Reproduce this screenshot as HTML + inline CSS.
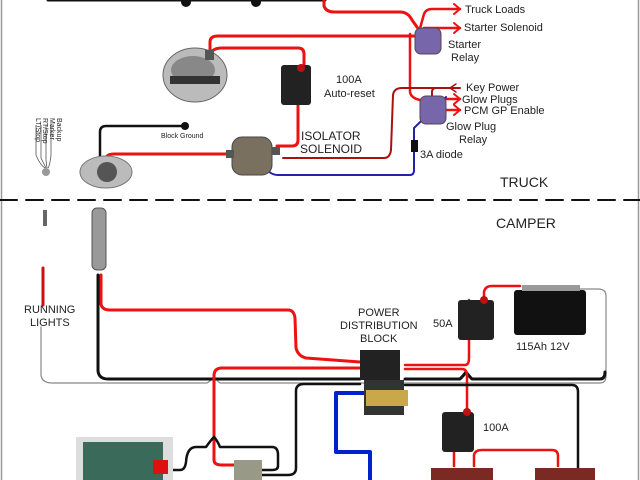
<!DOCTYPE html>
<html><head><meta charset="utf-8"><style>
html,body{margin:0;padding:0;background:#fff;}
svg{display:block;}
text{font-family:"Liberation Sans",sans-serif;fill:#222;}
</style></head><body>
<svg width="640" height="480" viewBox="0 0 640 480" xmlns="http://www.w3.org/2000/svg">
<rect width="640" height="480" fill="#fff"/>
<line x1="1.5" y1="0" x2="1.5" y2="480" stroke="#999" stroke-width="1.5"/>
<line x1="638.5" y1="0" x2="638.5" y2="480" stroke="#999" stroke-width="1.5"/>
<g fill="none" stroke-linecap="round" stroke-linejoin="round">
<!-- top black -->
<path d="M48 0 H325" stroke="#111" stroke-width="3"/>
<circle cx="186" cy="2" r="5" fill="#111"/><circle cx="256" cy="2" r="5" fill="#111"/>
<!-- top red to starter relay -->
<path d="M324 0 V6 Q326 12 334 12 H400 Q408 12 412 20 L422 34" stroke="#e11" stroke-width="3"/>
<path d="M210 57 V42 Q210 36 218 36 H422" stroke="#e11" stroke-width="3"/>
<path d="M210 55 Q212 48 222 48 H298 Q304 48 304 54 V78" stroke="#e11" stroke-width="3"/>
<path d="M419 32 L424 14 Q426 9 432 9 H460" stroke="#e11" stroke-width="2.5"/>
<path d="M454 4 L460 9 L454 14" stroke="#e11" stroke-width="2"/>
<path d="M424 28 H460" stroke="#e11" stroke-width="2.5"/>
<path d="M454 23 L460 28 L454 33" stroke="#e11" stroke-width="2"/>
<path d="M410 34 V92 Q411 98 420 100" stroke="#e11" stroke-width="2.5"/>
<!-- breaker to solenoid -->
<path d="M298 105 V140 Q298 146 292 146 H277" stroke="#e11" stroke-width="3"/>
<path d="M105 172 V160 Q106 154 114 154 H228" stroke="#e11" stroke-width="3"/>
<path d="M100 170 V132 Q100 126 106 126 H184" stroke="#111" stroke-width="2.5"/>
<circle cx="185" cy="126" r="4" fill="#111"/>
<!-- dark red key power -->
<path d="M283 158 H384 Q390 158 391 150 L393 95 Q394 88 402 88 H460" stroke="#a11" stroke-width="2"/>
<path d="M456 84 L450 88 L456 92" stroke="#a11" stroke-width="1.5"/>
<path d="M432 98 V92 Q432 88 436 88" stroke="#a11" stroke-width="2"/>
<path d="M430 99 H460" stroke="#e11" stroke-width="2.5"/><path d="M454 94 L460 99 L454 104" stroke="#e11" stroke-width="2"/>
<path d="M432 110 H460" stroke="#e11" stroke-width="2.5"/><path d="M454 105 L460 110 L454 115" stroke="#e11" stroke-width="2"/>
<!-- blue -->
<path d="M262 162 Q268 175 278 175 H410 Q414 175 414 170 V128 L446 97" stroke="#22a" stroke-width="2"/>
<!-- dashed divider -->
<path d="M0 200 H640" stroke="#111" stroke-width="2" stroke-dasharray="17 9"/>
<!-- camper -->
<path d="M43 268 V305" stroke="#c11" stroke-width="3"/>
<path d="M41 327 V375 Q42 383 52 383 H207 Q212 380 214 376 Q216 380 220 383 H600 Q606 383 606 376 V296 Q606 289 598 289 H575" stroke="#888" stroke-width="1.2"/>
<path d="M98 275 V371 Q99 379 108 379 H360" stroke="#111" stroke-width="3"/>
<path d="M405 379 H460 Q464 375 466 372 Q468 375 472 379 H600 Q605 379 605 372" stroke="#111" stroke-width="3"/>
<path d="M101 275 V304 Q102 310 110 310 H288 Q294 310 295 318 L296 348 Q298 356 306 358 L360 362" stroke="#e11" stroke-width="3"/>
<path d="M405 365 H465 Q469 365 469 358 V300" stroke="#e11" stroke-width="2.5"/>
<path d="M484 300 V292 Q485 286 492 286 H520" stroke="#e11" stroke-width="2.5"/>
<path d="M405 369 H462 Q467 369 467 376 V408" stroke="#e11" stroke-width="2.5"/>
<path d="M360 368 H222 Q214 368 214 376 V460 Q214 465 222 465 H240" stroke="#e11" stroke-width="3"/>
<path d="M167 470 H180 Q185 470 186 462 Q187 447 196 447 H206 Q211 440 214 437 Q217 440 220 447 H272 Q278 447 278 455 V466 Q278 470 272 470 H262" stroke="#111" stroke-width="2.5"/>
<path d="M262 475 H288 Q296 475 296 468 V391 Q296 384 304 384 H360" stroke="#111" stroke-width="2.5"/>
<path d="M370 393 H336 V452 H370 V480" stroke="#02c" stroke-width="4"/>
<path d="M405 385 H572 Q578 385 578 392 V470" stroke="#111" stroke-width="2.5"/>
<path d="M454 452 V466" stroke="#e11" stroke-width="2.5"/>
<path d="M474 466 V455 Q475 450 482 450 H552 Q558 450 558 456 V466" stroke="#e11" stroke-width="2.5"/>
<path d="M166 472 V480" stroke="#e11" stroke-width="3"/>
</g>
<!-- components -->
<g>
<!-- alternator -->
<ellipse cx="195" cy="75" rx="32" ry="27" fill="#bbb" stroke="#666"/>
<ellipse cx="193" cy="70" rx="22" ry="14" fill="#888"/>
<rect x="170" y="76" width="50" height="8" fill="#333"/>
<rect x="205" y="50" width="9" height="10" fill="#555"/>
<!-- 100A breaker top -->
<rect x="281" y="65" width="30" height="40" rx="3" fill="#222"/>
<circle cx="301" cy="68" r="4" fill="#b11"/>
<!-- starter relay -->
<rect x="415" y="28" width="26" height="26" rx="6" fill="#76a" stroke="#545"/>
<!-- glow plug relay -->
<rect x="420" y="96" width="26" height="28" rx="6" fill="#76a" stroke="#545"/>
<!-- diode -->
<rect x="411" y="140" width="7" height="12" fill="#111"/>
<!-- isolator solenoid -->
<rect x="232" y="137" width="40" height="38" rx="10" fill="#7a7060" stroke="#444"/>
<rect x="226" y="150" width="8" height="8" fill="#555"/><rect x="272" y="147" width="8" height="8" fill="#555"/>
<!-- trailer plug -->
<ellipse cx="106" cy="172" rx="26" ry="16" fill="#bbb" stroke="#777"/>
<circle cx="107" cy="172" r="10" fill="#555"/>
<!-- wires key -->
<g stroke="#555" fill="none" stroke-width="0.8"><path d="M36 125 V155 Q40 165 45 168 M41 125 V158 L46 168 M46 125 V160 L47 168 M51 125 V155 Q50 165 48 168"/></g>
<circle cx="46" cy="172" r="4" fill="#999"/>
<!-- camper plug -->
<rect x="92" y="208" width="14" height="62" rx="5" fill="#999" stroke="#555"/>
<rect x="43" y="210" width="4" height="16" fill="#666"/>
<!-- distribution block -->
<rect x="360" y="350" width="40" height="30" fill="#222"/>
<rect x="364" y="380" width="40" height="35" fill="#333"/>
<rect x="366" y="390" width="42" height="16" fill="#c9a84a"/>
<!-- 50A breaker -->
<rect x="458" y="300" width="36" height="40" rx="3" fill="#222"/>
<circle cx="484" cy="300" r="4" fill="#b11"/>
<!-- battery -->
<rect x="514" y="290" width="72" height="45" rx="3" fill="#111"/>
<rect x="522" y="285" width="58" height="6" fill="#999"/>
<!-- 100A breaker -->
<rect x="442" y="412" width="32" height="40" rx="3" fill="#222"/>
<circle cx="467" cy="412" r="4" fill="#b11"/>
<!-- batteries bottom -->
<rect x="431" y="468" width="62" height="12" fill="#7a2a22"/>
<rect x="535" y="468" width="60" height="12" fill="#7a2a22"/>
<!-- charger -->
<rect x="76" y="437" width="97" height="43" fill="#ddd"/>
<rect x="83" y="442" width="80" height="38" fill="#3a6a5a"/>
<rect x="153" y="460" width="15" height="14" fill="#d11"/>
<!-- small box -->
<rect x="234" y="460" width="28" height="20" fill="#998"/>
</g>
<g font-size="11">
<text x="465" y="13">Truck Loads</text>
<text x="464" y="31">Starter Solenoid</text>
<text x="448" y="48">Starter</text><text x="451" y="61">Relay</text>
<text x="466" y="91">Key Power</text>
<text x="462" y="103">Glow Plugs</text>
<text x="464" y="114">PCM GP Enable</text>
<text x="446" y="130">Glow Plug</text><text x="459" y="143">Relay</text>
<text x="420" y="158">3A diode</text>
<text x="336" y="83">100A</text><text x="324" y="97">Auto-reset</text>
<text x="301" y="140" font-size="12">ISOLATOR</text><text x="300" y="153" font-size="12">SOLENOID</text>
<text x="161" y="138" font-size="7">Block Ground</text>
<text x="500" y="187" font-size="14">TRUCK</text>
<text x="496" y="228" font-size="14">CAMPER</text>
<text x="24" y="313">RUNNING</text><text x="30" y="326">LIGHTS</text>
<text x="358" y="316">POWER</text><text x="340" y="329">DISTRIBUTION</text><text x="360" y="342">BLOCK</text>
<text x="433" y="327">50A</text>
<text x="516" y="350">115Ah 12V</text>
<text x="483" y="431">100A</text>
<g font-size="7" transform="rotate(90 36 118)"><text x="36" y="118">LT/Stop</text><text x="36" y="111">RT/Stop</text><text x="36" y="104">Marker</text><text x="36" y="97">Backup</text></g>
</g>
</svg>
</body></html>
